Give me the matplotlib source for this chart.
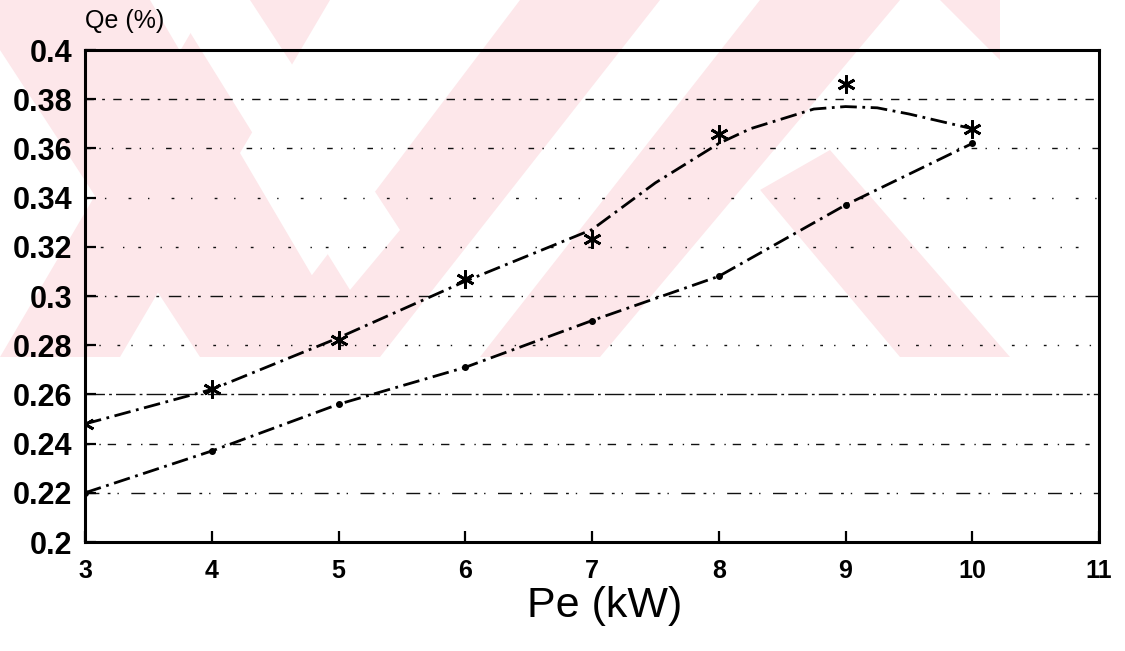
import matplotlib.pyplot as plt
from matplotlib.patches import Polygon

pe = [3, 4, 5, 6, 7, 8, 9, 10]
qe_star = [0.248, 0.262, 0.282, 0.307, 0.323, 0.366, 0.386, 0.368]
qe_dot = [0.220, 0.237, 0.256, 0.271, 0.290, 0.308, 0.337, 0.362]

curve_x = [3, 4, 5, 6, 7, 7.5, 8, 8.25, 8.5, 8.75, 9, 9.25, 9.5, 9.75, 10]
curve_star = [0.248, 0.262, 0.283, 0.306, 0.327, 0.346, 0.362, 0.368, 0.372, 0.376, 0.377,
              0.3765, 0.374, 0.371, 0.368]

x_ticks = [3, 4, 5, 6, 7, 8, 9, 10, 11]
y_ticks = [0.2, 0.22, 0.24, 0.26, 0.28, 0.3, 0.32, 0.34, 0.36, 0.38, 0.4]
y_labels = ['0.2', '0.22', '0.24', '0.26', '0.28', '0.3', '0.32', '0.34', '0.36', '0.38', '0.4']

W, H = 1125, 651
fig = plt.figure(figsize=(W / 100, H / 100), dpi=100)
fig.patch.set_facecolor('white')

# faint pink watermark in the upper part of the scan (pixel coords, y from top)
pink = '#fde7ea'
def px(points):
    return [(x / W, 1 - y / H) for x, y in points]

bands = [
    # left "\" arm
    [(0, 0), (150, 0), (360, 357), (200, 357), (0, 50)],
    # "/" stripes
    [(0, 357), (120, 357), (330, 0), (210, 0)],
    [(250, 357), (380, 357), (660, 0), (520, 0)],
    [(480, 357), (600, 357), (900, 0), (760, 0)],
    # right "\" arm of the lower chevron
    [(760, 190), (830, 150), (1010, 357), (900, 357)],
    [(940, 0), (1000, 0), (1000, 60)],
]
for b in bands:
    fig.patches.append(Polygon(px(b), closed=True, transform=fig.transFigure,
                               facecolor=pink, edgecolor='none', zorder=-5))
# white gaps cutting the chevrons
gaps = [
    [(170, 0), (250, 0), (400, 230), (350, 290)],
    [(640, 357), (760, 190), (830, 280), (760, 357)],
]
for g in gaps:
    fig.patches.append(Polygon(px(g), closed=True, transform=fig.transFigure,
                               facecolor='white', edgecolor='none', zorder=-4))

ax = fig.add_axes([85 / W, 1 - 542 / H, (1099 - 85) / W, (542 - 50) / H])
ax.patch.set_alpha(0)

# broken horizontal grid lines like the scanned original
patterns = [(0, (10, 6, 2, 5, 1, 9)), (0, (3, 7, 1, 5, 6, 8)), (0, (14, 3, 2, 3)),
            (0, (2, 8, 1, 12)), (0, (9, 5, 1, 6, 2, 7)), (0, (1, 10, 2, 14)),
            (0, (2, 12, 1, 16)), (0, (4, 6, 1, 8, 1, 9)), (0, (6, 6, 2, 6))]
for yv, ls in zip(y_ticks[1:-1], patterns):
    ax.axhline(yv, color='#111111', lw=1.0, ls=ls, zorder=1)

ax.plot(curve_x, curve_star, color='black', lw=2, ls=(0, (6, 2, 1, 2)), zorder=3)
ax.plot(pe, qe_star, ls='none', marker=(6, 2, 0), ms=13, mew=2, color='black', zorder=4)
ax.plot(pe, qe_dot, color='black', lw=2, ls=(0, (6, 2, 1, 2)), zorder=3)
ax.plot(pe, qe_dot, ls='none', marker='o', ms=4, color='black', zorder=4)

ax.set_xlim(3, 11)
ax.set_ylim(0.2, 0.4)
ax.set_xticks(x_ticks)
ax.set_yticks(y_ticks)
ax.set_yticklabels(y_labels)
for s in ax.spines.values():
    s.set_linewidth(2.2)
ax.tick_params(axis='both', direction='in', length=8, width=1.6, colors='black')
ax.tick_params(axis='y', pad=9)
ax.tick_params(axis='x', pad=12)
for lab in ax.get_yticklabels():
    lab.set_fontfamily('Liberation Sans')
    lab.set_fontweight('bold')
    lab.set_fontsize(22)
for lab in ax.get_xticklabels():
    lab.set_fontfamily('Liberation Sans')
    lab.set_fontweight('bold')
    lab.set_fontsize(18)

fig.text(85 / W, 1 - 21 / H, 'Qe (%)', fontsize=18, family='Liberation Sans',
         ha='left', va='center')
fig.text(605 / W, 1 - 606 / H, 'Pe (kW)', fontsize=31, family='Liberation Sans',
         ha='center', va='center')

fig.savefig('out.png', dpi=100)
